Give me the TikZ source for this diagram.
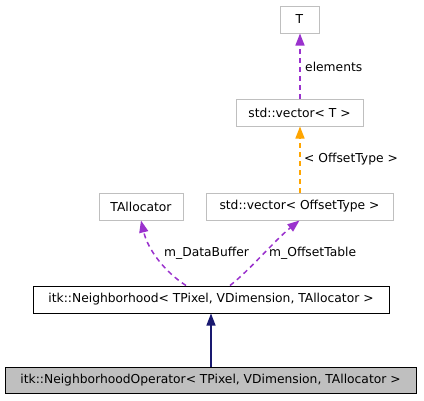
\documentclass[tikz,border=0pt]{standalone}
\usepackage{fontspec}
\setmainfont{DejaVu Sans}
\usetikzlibrary{arrows.meta}
\definecolor{boxgray}{HTML}{BFBFBF}
\definecolor{orchid}{HTML}{9A32CD}
\definecolor{orangeedge}{HTML}{FFA500}
\definecolor{navyedge}{HTML}{191970}
\begin{document}
\begin{tikzpicture}[x=1pt,y=-1pt,
  box/.style={draw=boxgray, line width=1pt, fill=white, inner sep=0pt, font=\fontsize{12.3}{14}\selectfont},
  mainbox/.style={box, draw=black},
  focusbox/.style={box, draw=black, fill=boxgray},
  usage/.style={draw=orchid, line width=1.5pt, dash pattern=on 5pt off 4pt, -{Triangle[width=9pt,length=12pt]}},
  tmpl/.style={draw=orangeedge, line width=1.5pt, dash pattern=on 5pt off 4pt, -{Triangle[width=9pt,length=12pt]}},
  inherit/.style={draw=navyedge, line width=1.2pt, -{Triangle[width=9pt,length=12pt]}},
  lbl/.style={font=\fontsize{12.3}{14}\selectfont, inner sep=0pt}]
\useasboundingbox (0,0) rectangle (424,400);
\node[box, minimum width=39pt, minimum height=27pt] (T) at (299.5,19.5) {T};
\node[box, minimum width=127pt, minimum height=27pt] (vecT) at (299.5,112.5) {std::vector< T >};
\node[box, minimum width=84pt, minimum height=27pt] (alloc) at (141,206.5) {TAllocator};
\node[box, minimum width=187pt, minimum height=27pt] (vecO) at (299.5,206.5) {std::vector< OffsetType >};
\node[mainbox, minimum width=356pt, minimum height=27pt] (nb) at (211,299.5) {itk::Neighborhood< TPixel, VDimension, TAllocator >};
\node[focusbox, minimum width=411pt, minimum height=26pt] (op) at (210.5,380) {itk::NeighborhoodOperator< TPixel, VDimension, TAllocator >};
\coordinate (nbA) at (186,299.5);
\coordinate (nbB) at (230,299.5);
\coordinate (colx) at (300,0);
\draw[inherit] (op.north -| nb.south) -- (nb.south);
\draw[usage] (nbA |- nb.north) .. controls (165,272) and (148,250) .. (alloc.south);
\draw[usage] (nbB |- nb.north) .. controls (250,270) and (275,240) .. (vecO.south);
\draw[tmpl] (colx |- vecO.north) -- (colx |- vecT.south);
\draw[usage] (colx |- vecT.north) -- (colx |- T.south);
\node[lbl, anchor=west] (lDB) at (164,253) {m\_DataBuffer};
\node[lbl, anchor=west] (lOT) at (269,253) {m\_OffsetTable};
\node[lbl, anchor=west] (lOF) at (304,159.5) {< OffsetType >};
\node[lbl, anchor=west] (lEl) at (305,66.5) {elements};
\end{tikzpicture}
\end{document}
